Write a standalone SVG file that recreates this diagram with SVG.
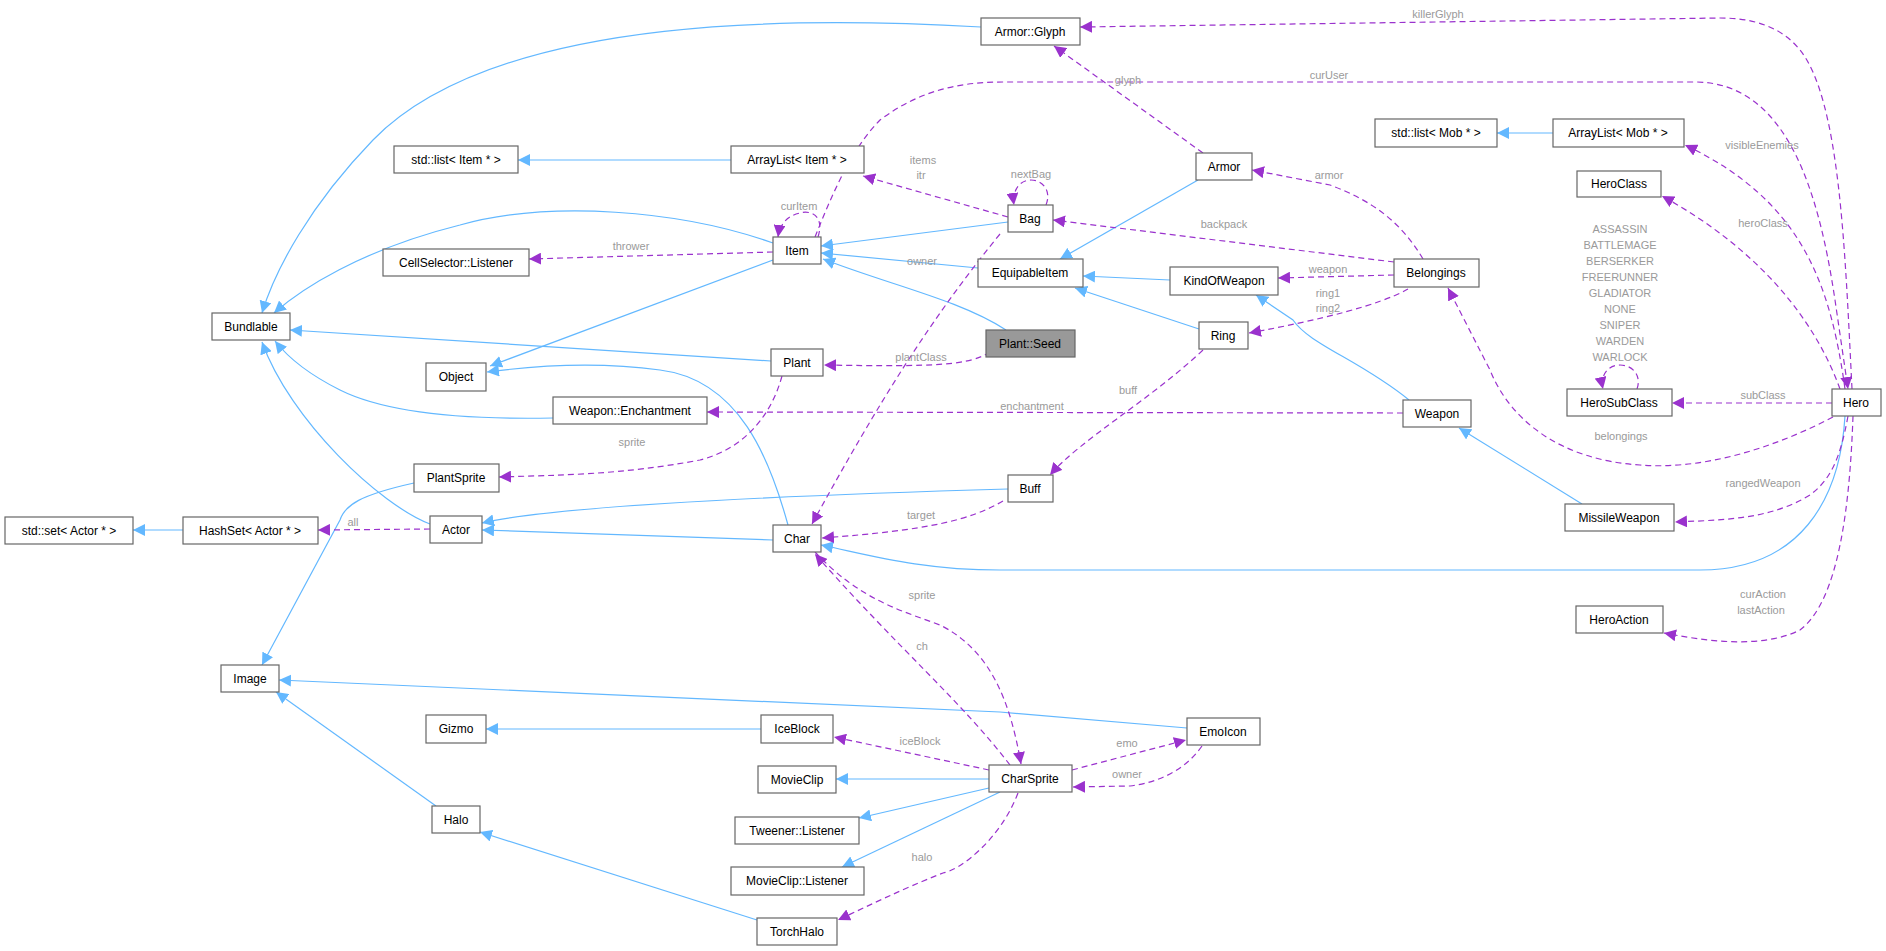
<svg xmlns="http://www.w3.org/2000/svg" width="1886" height="951" viewBox="0 0 1886 951">
<style>
.n rect{fill:#fff;stroke:#666;stroke-width:1.2}
.n text{font-family:"Liberation Sans",Arial,sans-serif;font-size:12px;fill:#000;text-anchor:middle}
.b{fill:none;stroke:#63b8ff;stroke-width:1.2;marker-end:url(#ab)}
.p{fill:none;stroke:#9a32cd;stroke-width:1.2;stroke-dasharray:6,4;marker-end:url(#ap)}
.l{font-family:"Liberation Sans",Arial,sans-serif;font-size:11px;fill:#9a9a9a;text-anchor:middle}
</style>
<defs>
<marker id="ab" viewBox="0 0 10 10" refX="10" refY="5" markerWidth="12" markerHeight="12" markerUnits="userSpaceOnUse" orient="auto"><path d="M0,0L10,5L0,10z" fill="#63b8ff"/></marker>
<marker id="ap" viewBox="0 0 10 10" refX="10" refY="5" markerWidth="12" markerHeight="12" markerUnits="userSpaceOnUse" orient="auto"><path d="M0,0L10,5L0,10z" fill="#9a32cd"/></marker>
</defs>
<rect width="1886" height="951" fill="#fff"/>
<g id="edges">
<path class="b" d="M981,27 C820,18 500,10 373,140 C310,205 275,270 262,313"/>
<path class="b" d="M731,160 L518,160"/>
<path class="b" d="M773,243 C680,210 550,200 460,225 C360,250 300,290 274,313"/>
<path class="b" d="M773,260 L490,366"/>
<path class="b" d="M1008,222 L821,246"/>
<path class="b" d="M978,268 L821,253"/>
<path class="b" d="M1006,330 C960,300 890,285 823,259"/>
<path class="b" d="M771,361 L290,330"/>
<path class="b" d="M553,418 C450,420 380,410 340,390 C310,375 290,360 275,341"/>
<path class="b" d="M430,524 C380,505 290,420 262,342"/>
<path class="b" d="M788,525 C770,460 740,380 660,370 C600,362 540,365 487,372"/>
<path class="b" d="M773,540 L482,530"/>
<path class="b" d="M1008,489 C800,495 560,505 482,523"/>
<path class="b" d="M414,483 C360,495 345,505 340,520 L262,665"/>
<path class="b" d="M1845,416 C1840,500 1800,570 1700,570 L1000,570 C920,570 870,555 821,545"/>
<path class="b" d="M1198,180 L1060,259"/>
<path class="b" d="M1170,280 L1083,276"/>
<path class="b" d="M1199,329 L1075,288"/>
<path class="b" d="M1409,400 C1360,360 1310,345 1293,320 L1256,295"/>
<path class="b" d="M1582,504 L1459,428"/>
<path class="b" d="M1553,133 L1497,133"/>
<path class="b" d="M183,530 L133,530"/>
<path class="b" d="M1187,728 L1000,712 L279,680"/>
<path class="b" d="M761,729 L486,729"/>
<path class="b" d="M436,806 L276,692"/>
<path class="b" d="M757,920 L480,832"/>
<path class="b" d="M989,779 L836,779"/>
<path class="b" d="M989,788 L859,818"/>
<path class="b" d="M1000,792 L842,867"/>

<path class="p" d="M1852,389 C1845,250 1840,100 1800,50 C1780,25 1750,18 1720,18 L1080,27"/>
<path class="p" d="M1203,153 L1054,46"/>
<path class="p" d="M815,237 C830,200 850,150 880,120 C920,90 960,82 1003,82 L1695,82 C1790,82 1820,200 1835,300 L1848,389"/>
<path class="p" d="M1008,217 L863,176"/>
<path class="p" d="M818,237 C825,215 810,210 800,213 C790,215 780,222 778,237"/>
<path class="p" d="M773,252 L529,259"/>
<path class="p" d="M1046,205 C1052,190 1042,180 1031,180 C1020,180 1012,190 1014,205"/>
<path class="p" d="M1394,262 L1053,220"/>
<path class="p" d="M1423,259 C1400,220 1370,200 1330,185 L1252,170"/>
<path class="p" d="M1394,275 L1278,278"/>
<path class="p" d="M1408,289 C1380,305 1320,320 1249,333"/>
<path class="p" d="M1000,234 C930,320 880,400 812,524"/>
<path class="p" d="M990,352 C970,365 940,367 824,365"/>
<path class="p" d="M782,376 C770,420 740,450 700,460 C620,475 560,475 499,477"/>
<path class="p" d="M1403,413 L707,412"/>
<path class="p" d="M1203,350 C1150,400 1080,440 1050,475"/>
<path class="p" d="M1003,501 C970,520 930,530 822,538"/>
<path class="p" d="M815,552 C860,600 900,610 940,625 C990,650 1010,700 1021,764"/>
<path class="p" d="M1010,765 C960,700 900,650 815,554"/>
<path class="p" d="M989,770 L834,737"/>
<path class="p" d="M1072,770 L1186,740"/>
<path class="p" d="M1202,746 C1185,770 1160,782 1130,786 L1073,787"/>
<path class="p" d="M1018,793 C1000,840 960,870 943,873 C900,890 870,905 838,920"/>
<path class="p" d="M430,529 L318,530"/>
<path class="p" d="M1845,389 C1830,280 1800,200 1685,145"/>
<path class="p" d="M1840,389 C1815,320 1760,250 1662,196"/>
<path class="p" d="M1832,403 L1672,403"/>
<path class="p" d="M1637,389 C1642,375 1632,365 1620,365 C1608,365 1600,375 1603,389"/>
<path class="p" d="M1833,417 C1770,450 1700,470 1640,465 C1560,460 1510,420 1490,370 L1448,288"/>
<path class="p" d="M1848,416 C1840,460 1830,480 1810,495 C1770,520 1720,520 1675,522"/>
<path class="p" d="M1853,416 C1850,500 1840,600 1800,630 C1760,650 1700,640 1664,633"/>
</g>
<g id="labels">
<text class="l" x="1438" y="18">killerGlyph</text>
<text class="l" x="1128" y="84">glyph</text>
<text class="l" x="1329" y="79">curUser</text>
<text class="l" x="1762" y="149">visibleEnemies</text>
<text class="l" x="1329" y="179">armor</text>
<text class="l" x="1031" y="178">nextBag</text>
<text class="l" x="1224" y="228">backpack</text>
<text class="l" x="1763" y="227">heroClass</text>
<text class="l" x="1328" y="273">weapon</text>
<text class="l" x="1328" y="297">ring1</text>
<text class="l" x="1328" y="312">ring2</text>
<text class="l" x="1128" y="394">buff</text>
<text class="l" x="1032" y="410">enchantment</text>
<text class="l" x="1763" y="399">subClass</text>
<text class="l" x="1621" y="440">belongings</text>
<text class="l" x="1620" y="233">ASSASSIN</text>
<text class="l" x="1620" y="249">BATTLEMAGE</text>
<text class="l" x="1620" y="265">BERSERKER</text>
<text class="l" x="1620" y="281">FREERUNNER</text>
<text class="l" x="1620" y="297">GLADIATOR</text>
<text class="l" x="1620" y="313">NONE</text>
<text class="l" x="1620" y="329">SNIPER</text>
<text class="l" x="1620" y="345">WARDEN</text>
<text class="l" x="1620" y="361">WARLOCK</text>
<text class="l" x="923" y="164">items</text>
<text class="l" x="921" y="179">itr</text>
<text class="l" x="799" y="210">curItem</text>
<text class="l" x="631" y="250">thrower</text>
<text class="l" x="922" y="265">owner</text>
<text class="l" x="921" y="361">plantClass</text>
<text class="l" x="632" y="446">sprite</text>
<text class="l" x="353" y="526">all</text>
<text class="l" x="921" y="519">target</text>
<text class="l" x="922" y="599">sprite</text>
<text class="l" x="922" y="650">ch</text>
<text class="l" x="920" y="745">iceBlock</text>
<text class="l" x="922" y="861">halo</text>
<text class="l" x="1763" y="487">rangedWeapon</text>
<text class="l" x="1763" y="598">curAction</text>
<text class="l" x="1761" y="614">lastAction</text>
<text class="l" x="1127" y="747">emo</text>
<text class="l" x="1127" y="778">owner</text>
</g>
<g id="n1" class="n"><rect x="212" y="313" width="78" height="27"/><text x="251" y="331">Bundlable</text></g>
<g id="n2" class="n"><rect x="394" y="146" width="124" height="27"/><text x="456" y="164">std::list&lt; Item * &gt;</text></g>
<g id="n3" class="n"><rect x="731" y="146" width="133" height="27"/><text x="797" y="164">ArrayList&lt; Item * &gt;</text></g>
<g id="n4" class="n"><rect x="383" y="249" width="146" height="27"/><text x="456" y="267">CellSelector::Listener</text></g>
<g id="n5" class="n"><rect x="773" y="237" width="48" height="27"/><text x="797" y="255">Item</text></g>
<g id="n6" class="n"><rect x="426" y="363" width="60" height="28"/><text x="456" y="381">Object</text></g>
<g id="n7" class="n"><rect x="771" y="349" width="52" height="27"/><text x="797" y="367">Plant</text></g>
<g id="n8" class="n"><rect x="553" y="397" width="154" height="27"/><text x="630" y="415">Weapon::Enchantment</text></g>
<g id="n9" class="n"><rect x="414" y="464" width="85" height="28"/><text x="456" y="482">PlantSprite</text></g>
<g id="n10" class="n"><rect x="981" y="18" width="99" height="27"/><text x="1030" y="36">Armor::Glyph</text></g>
<g id="n11" class="n"><rect x="1375" y="119" width="122" height="28"/><text x="1436" y="137">std::list&lt; Mob * &gt;</text></g>
<g id="n12" class="n"><rect x="1553" y="119" width="131" height="28"/><text x="1618" y="137">ArrayList&lt; Mob * &gt;</text></g>
<g id="n13" class="n"><rect x="1196" y="153" width="56" height="27"/><text x="1224" y="171">Armor</text></g>
<g id="n14" class="n"><rect x="1577" y="171" width="84" height="26"/><text x="1619" y="188">HeroClass</text></g>
<g id="n15" class="n"><rect x="1008" y="205" width="45" height="27"/><text x="1030" y="223">Bag</text></g>
<g id="n16" class="n"><rect x="978" y="259" width="105" height="28"/><text x="1030" y="277">EquipableItem</text></g>
<g id="n17" class="n"><rect x="1170" y="267" width="108" height="28"/><text x="1224" y="285">KindOfWeapon</text></g>
<g id="n18" class="n"><rect x="1394" y="259" width="85" height="28"/><text x="1436" y="277">Belongings</text></g>
<g id="n19" class="n"><rect x="1199" y="322" width="49" height="27"/><text x="1223" y="340">Ring</text></g>
<g id="n20" class="n"><rect x="986" y="330" width="89" height="27" style="fill:#999"/><text x="1030" y="348">Plant::Seed</text></g>
<g id="n21" class="n"><rect x="1567" y="389" width="105" height="27"/><text x="1619" y="407">HeroSubClass</text></g>
<g id="n22" class="n"><rect x="1832" y="389" width="49" height="27"/><text x="1856" y="407">Hero</text></g>
<g id="n23" class="n"><rect x="1403" y="400" width="68" height="27"/><text x="1437" y="418">Weapon</text></g>
<g id="n24" class="n"><rect x="5" y="517" width="128" height="27"/><text x="69" y="535">std::set&lt; Actor * &gt;</text></g>
<g id="n25" class="n"><rect x="183" y="517" width="135" height="27"/><text x="250" y="535">HashSet&lt; Actor * &gt;</text></g>
<g id="n26" class="n"><rect x="430" y="516" width="52" height="27"/><text x="456" y="534">Actor</text></g>
<g id="n27" class="n"><rect x="773" y="525" width="48" height="27"/><text x="797" y="543">Char</text></g>
<g id="n28" class="n"><rect x="221" y="665" width="58" height="27"/><text x="250" y="683">Image</text></g>
<g id="n29" class="n"><rect x="426" y="715" width="60" height="28"/><text x="456" y="733">Gizmo</text></g>
<g id="n30" class="n"><rect x="761" y="715" width="72" height="28"/><text x="797" y="733">IceBlock</text></g>
<g id="n31" class="n"><rect x="758" y="766" width="78" height="27"/><text x="797" y="784">MovieClip</text></g>
<g id="n32" class="n"><rect x="735" y="817" width="124" height="27"/><text x="797" y="835">Tweener::Listener</text></g>
<g id="n33" class="n"><rect x="731" y="867" width="133" height="28"/><text x="797" y="885">MovieClip::Listener</text></g>
<g id="n34" class="n"><rect x="432" y="806" width="48" height="27"/><text x="456" y="824">Halo</text></g>
<g id="n35" class="n"><rect x="757" y="918" width="80" height="27"/><text x="797" y="936">TorchHalo</text></g>
<g id="n36" class="n"><rect x="1008" y="475" width="45" height="27"/><text x="1030" y="493">Buff</text></g>
<g id="n37" class="n"><rect x="1565" y="504" width="109" height="27"/><text x="1619" y="522">MissileWeapon</text></g>
<g id="n38" class="n"><rect x="1576" y="606" width="87" height="27"/><text x="1619" y="624">HeroAction</text></g>
<g id="n39" class="n"><rect x="1187" y="718" width="73" height="27"/><text x="1223" y="736">EmoIcon</text></g>
<g id="n40" class="n"><rect x="989" y="765" width="83" height="27"/><text x="1030" y="783">CharSprite</text></g>
</svg>
